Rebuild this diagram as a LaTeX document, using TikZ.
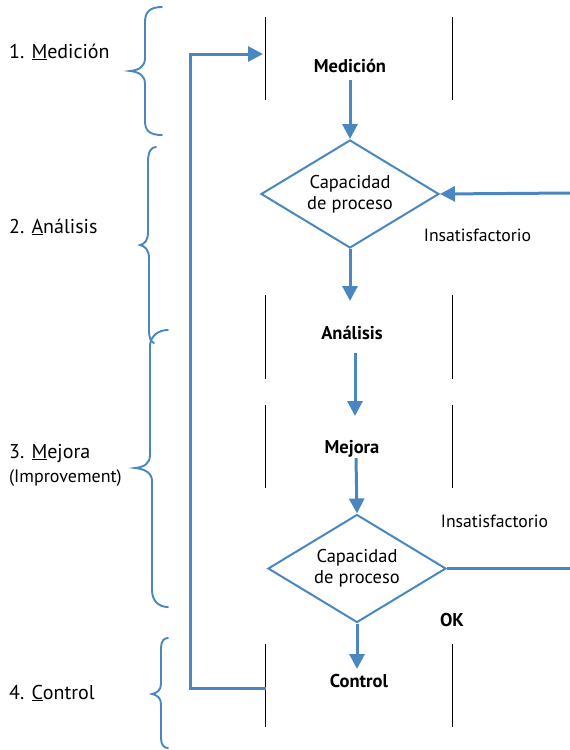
\documentclass[tikz,border=0pt]{standalone}
\usepackage{fontspec}
\setmainfont{PT Sans}
\usetikzlibrary{arrows.meta,shapes.geometric}
\definecolor{flow}{RGB}{74,134,192}
\begin{document}
\begin{tikzpicture}[x=1pt,y=-1pt,
  sideline/.style={black,line width=1.2pt},
  flowline/.style={flow,line width=3pt},
  flowarrow/.style={flowline,-{Triangle[length=15pt,width=15pt]}},
  bracepath/.style={flow,line width=1.9pt,line cap=round},
  boxarea/.style={minimum width=186pt,minimum height=83pt,inner sep=0pt},
  decision/.style={diamond,draw=flow,line width=2pt,aspect=1.65,inner sep=0pt,
     minimum width=178pt,minimum height=108pt,align=center,
     font=\fontsize{18.5}{21}\selectfont},
  reglbl/.style={font=\fontsize{17.7}{20}\selectfont,anchor=base,inner sep=0pt},
  boldlbl/.style={font=\fontsize{18.5}{21}\selectfont\bfseries,anchor=base,inner sep=0pt},
  leftlbl/.style={font=\fontsize{20}{24}\selectfont,anchor=base west,inner sep=0pt},
  smalllbl/.style={font=\fontsize{18}{21}\selectfont,anchor=base west,inner sep=0pt}]
\useasboundingbox (0,0) rectangle (570,750);

% boxes (only side lines)
\node[boxarea] (b1) at (359,58.5) {};
\node[boxarea] (b2) at (359,337) {};
\node[boxarea] (b3) at (359,446.5) {};
\node[boxarea] (b4) at (359,685.5) {};
\foreach \b in {b1,b2,b3,b4}{
  \draw[sideline] (\b.north west) -- (\b.south west);
  \draw[sideline] (\b.north east) -- (\b.south east);
}

% texts in boxes
\node[boldlbl] (t1) at (350,72) {Medición};
\node[boldlbl] (t2) at (352,339) {Análisis};
\node[boldlbl] (t3) at (352,453) {Mejora};
\node[boldlbl] (t4) at (359,687) {Control};

% decisions
\node[decision] (d1) at (350,194) {Capacidad\\de proceso};
\node[decision] (d2) at (357,568.5) {Capacidad\\de proceso};

% labels
\node[reglbl] (i1) at (477.5,241) {Insatisfactorio};
\node[reglbl] (i2) at (494.5,527) {Insatisfactorio};
\node[boldlbl] (ok) at (452,626) {OK};

% coordinates
\coordinate (a1s) at (350,80);
\coordinate (a2e) at (350,301);
\coordinate (a3s) at (355,353);
\coordinate (a3e) at (355,416);
\coordinate (a4s) at (356,458);
\coordinate (a4t) at (356,514);
\coordinate (a5e) at (357,669);
\coordinate (inR) at (571,193);
\coordinate (outR) at (571,568.5);
\coordinate (loopA) at (266,688);
\coordinate (loopB) at (190,688);
\coordinate (loopC) at (190,54);
\coordinate (loopD) at (263,54);

% connectors
\draw[flowarrow] (a1s) -- (d1.north);
\draw[flowarrow] (d1.south) -- (a2e);
\draw[flowarrow] (a3s) -- (a3e);
\draw[flowarrow] (a4s) -- (d2.north);
\draw[flowarrow] (d2.south) -- (a5e);
\draw[flowarrow] (inR) -- (d1.east);
\draw[flowline] (d2.east) -- (outR);
\draw[flowline,line join=miter,-{Triangle[length=15pt,width=15pt]}] (loopA) -- (loopB) -- (loopC) -- (loopD);

% left labels
\node[leftlbl] (l1) at (9,58) {1. \underline{M}edición};
\node[leftlbl] (l2) at (9,233) {2. \underline{A}nálisis};
\node[leftlbl] (l3) at (9,458) {3. \underline{M}ejora};
\node[smalllbl] (l3b) at (9,482) {(Improvement)};
\node[leftlbl] (l4) at (9,699) {4. \underline{C}ontrol};

% braces
\draw[bracepath] (162,7) .. controls (150,7) and (145,12) .. (145,22)
  -- (145,58) .. controls (145,66) and (140,70) .. (130,71)
  .. controls (140,72) and (145,76) .. (145,84)
  -- (145,121) .. controls (145,131) and (150,135) .. (162,135);
\draw[bracepath] (156,147) .. controls (151,147) and (148,152) .. (148,162)
  -- (148,232) .. controls (148,240) and (145,244) .. (140,245)
  .. controls (145,246) and (149,250) .. (149,258)
  -- (149,330) .. controls (149,338) and (151,342) .. (154,343);
\draw[bracepath] (168,330) .. controls (158,330) and (151,336) .. (150,345)
  -- (150,455) .. controls (150,463) and (145,467) .. (135,468)
  .. controls (145,469) and (152,473) .. (152,481)
  -- (152,590) .. controls (152,600) and (158,607) .. (168,607);
\draw[bracepath] (168,638) .. controls (164,638) and (161,641) .. (161,648)
  -- (161,684) .. controls (161,690) and (157,693) .. (152,694)
  .. controls (157,695) and (161,698) .. (161,704)
  -- (161,738) .. controls (161,745) and (164,748) .. (168,748);
\end{tikzpicture}
\end{document}
